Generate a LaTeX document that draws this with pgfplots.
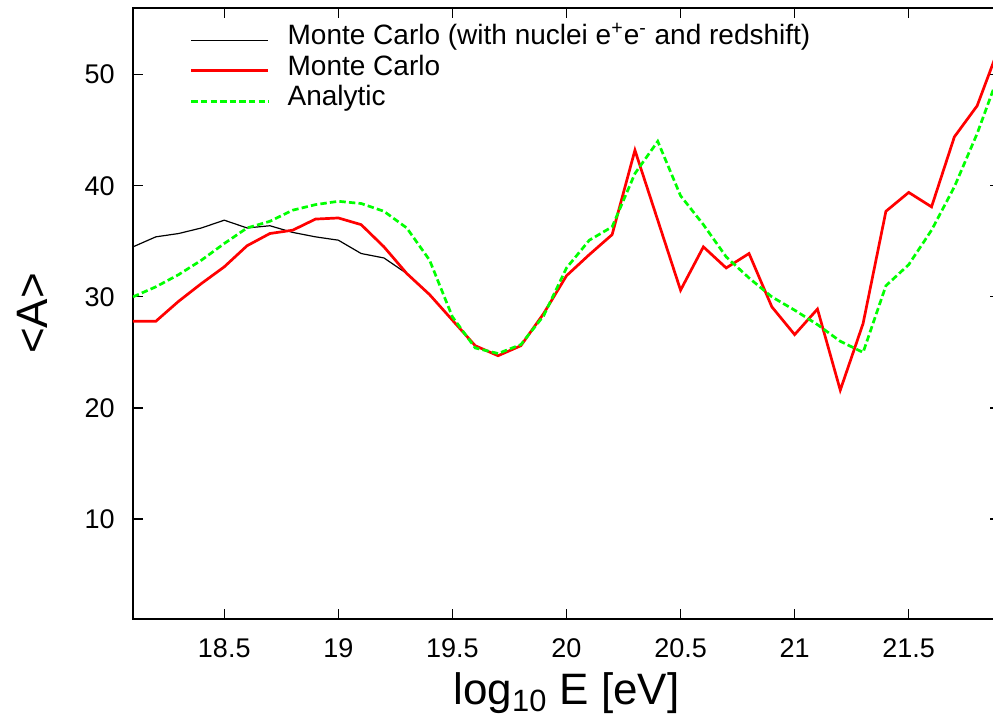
\documentclass[border=0pt]{standalone}
\usepackage{fontspec}
\setmainfont{Liberation Sans}
\usepackage{pgfplots}
\pgfplotsset{compat=1.18}
\usepackage{pgfplotstable}

% Mean mass number <A> versus log10 of the energy
\pgfplotstableread{
x y
18.1 34.5
18.2 35.4
18.3 35.7
18.4 36.2
18.5 36.9
18.6 36.2
18.7 36.4
18.8 35.8
18.9 35.4
19.0 35.1
19.1 33.9
19.2 33.5
19.3 32.1
19.4 30.2
19.5 27.9
}\mcfull

\pgfplotstableread{
x y
18.1 27.8
18.2 27.8
18.3 29.6
18.4 31.2
18.5 32.7
18.6 34.6
18.7 35.7
18.8 36.0
18.9 37.0
19.0 37.1
19.1 36.5
19.2 34.5
19.3 32.1
19.4 30.2
19.5 27.9
19.6 25.6
19.7 24.7
19.8 25.6
19.9 28.5
20.0 31.9
20.1 33.8
20.2 35.6
20.3 43.2
20.4 36.9
20.5 30.6
20.6 34.5
20.7 32.6
20.8 33.9
20.9 29.1
21.0 26.6
21.1 28.9
21.2 21.6
21.3 27.6
21.4 37.7
21.5 39.4
21.6 38.1
21.7 44.4
21.8 47.2
21.9 52.7
}\mc

\pgfplotstableread{
x y
18.1 30.0
18.2 30.9
18.3 32.0
18.4 33.3
18.5 34.8
18.6 36.2
18.7 36.8
18.8 37.8
18.9 38.3
19.0 38.6
19.1 38.4
19.2 37.7
19.3 36.2
19.4 33.3
19.5 28.2
19.6 25.4
19.7 24.9
19.8 25.7
19.9 28.3
20.0 32.6
20.1 35.1
20.2 36.3
20.3 41.1
20.4 44.0
20.5 39.1
20.6 36.5
20.7 33.6
20.8 31.7
20.9 30.0
21.0 28.8
21.1 27.5
21.2 26.0
21.3 25.0
21.4 31.0
21.5 32.9
21.6 36.0
21.7 39.9
21.8 44.7
21.9 50.3
}\analytic

\definecolor{mcred}{RGB}{255,0,0}
\definecolor{angreen}{RGB}{0,255,0}

\begin{document}
\begin{tikzpicture}
\begin{axis}[
  scale only axis,
  width=433.5pt, height=305.5pt,
  xmin=18.1, xmax=21.9, ymin=1, ymax=56,
  xtick={18.5,19,19.5,20,20.5,21,21.5},
  ytick={10,20,30,40,50},
  tick align=inside,
  major tick length=5pt,
  axis line style={line width=1pt},
  every tick/.style={black, line width=0.6pt},
  /pgf/number format/assume math mode=true,
  ticklabel style={font=\fontsize{13.5}{13.5}\selectfont},
  yticklabel style={inner sep=0pt, xshift=-9pt},
  xticklabel style={inner sep=0pt, yshift=-9.5pt},
  xlabel={log\textsubscript{10} E [eV]},
  ylabel={<A>},
  label style={font=\fontsize{22}{22}\selectfont},
  xlabel style={at={(axis description cs:0.5,0)}, anchor=north, inner sep=0pt, yshift=-26.5pt},
  ylabel style={at={(axis description cs:0,0.5)}, anchor=south, inner sep=0pt, yshift=42.5pt},
  legend image code/.code={\draw[#1] (0pt,0pt) -- (38.5pt,0pt);},
  legend style={
    draw=none, fill=none,
    at={(0.0657,0.9722)}, anchor=north west,
    inner sep=0pt, outer sep=0pt,
    column sep=9pt, row sep=0pt,
    font=\fontsize{14}{15}\selectfont,
    nodes={inner sep=0pt, text height=10pt, text depth=5.25pt},
    cells={anchor=west},
  },
]
\coordinate (o) at (rel axis cs:0,0);
\addplot[black, line width=0.6pt] table {\mcfull};
\addlegendentry{Monte Carlo (with nuclei e\textsuperscript{+}e\textsuperscript{-} and redshift)}
\addplot[mcred, line width=1.35pt] table {\mc};
\addlegendentry{Monte Carlo}
\addplot[angreen, line width=1.35pt, dash pattern=on 3.2pt off 1.6pt] table {\analytic};
\addlegendentry{Analytic}
\end{axis}
\pgfresetboundingbox
\path[use as bounding box] ([shift={(-66.5pt,-50.5pt)}]o) rectangle ++(496.5pt,360pt);
\end{tikzpicture}
\end{document}
